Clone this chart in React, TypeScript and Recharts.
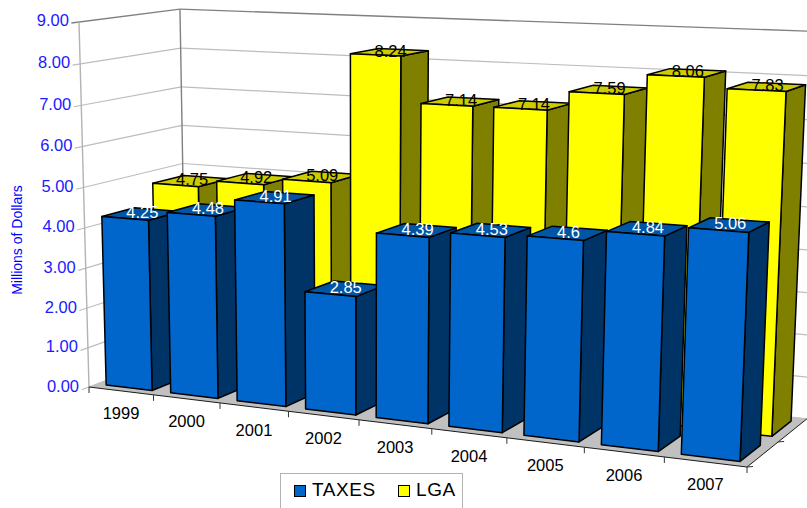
import React from "react";
import { Bar, ComposedChart, Legend, LabelList, XAxis, YAxis } from "recharts";

const years = ["1999", "2000", "2001", "2002", "2003", "2004", "2005", "2006", "2007"];
const taxes = [4.25, 4.48, 4.91, 2.85, 4.39, 4.53, 4.6, 4.84, 5.06];
const lga = [4.75, 4.92, 5.09, 8.24, 7.14, 7.14, 7.59, 8.06, 7.83];
const valueTicks = [0, 1, 2, 3, 4, 5, 6, 7, 8, 9];

const rows = years.map((year, i) => ({ year, TAXES: taxes[i], LGA: lga[i] }));

const WIDTH = 807;
const HEIGHT = 508;
const MAX_VALUE = 9;
const FONT = "'Liberation Sans', Arial, sans-serif";
const AXIS_SIZE = 1;

// Perspective camera: X runs along the years, Y into the depth of the floor,
// Z up the value axis; all three are normalised to 0..1.
const project = (X: number, Y: number, Z: number): [number, number] => {
  const w = 1 - 0.13 * X + 0.0722 * Y - 0.0353 * Z;
  return [
    (89 + 560.9 * X + 110.4 * Y - 12.8 * Z) / w,
    (387 + 19.3 * X - 11.7 * Y - 365.8 * Z) / w,
  ];
};

const path = (points: [number, number][]) =>
  points.map(([x, y]) => `${x.toFixed(2)},${y.toFixed(2)}`).join(" ");

const TAXES_DEPTH: [number, number] = [0.08, 0.4];
const LGA_DEPTH: [number, number] = [0.59, 0.92];

// Plot-pixel x to the normalised position along the years.
const toX = (x: number) => (x - AXIS_SIZE) / (WIDTH - AXIS_SIZE);

type Palette = { front: string; side: string; top: string };
const BLUE: Palette = { front: "#0066cc", side: "#003366", top: "#0055a5" };
const YELLOW: Palette = { front: "#ffff00", side: "#808000", top: "#cccc00" };

// Draws one column as a shaded box from the rectangle the Bar series computes.
const boxShape = (palette: Palette, [near, far]: [number, number]) => (props: any) => {
  const { x, width, height, background } = props;
  const X0 = toX(x);
  const X1 = toX(x + width);
  const Z = height / background.height;
  const outline = { stroke: "#000", strokeWidth: 1.5, strokeLinejoin: "round" as const };
  return (
    <g>
      <polygon
        points={path([project(X1, near, 0), project(X1, far, 0), project(X1, far, Z), project(X1, near, Z)])}
        fill={palette.side}
        {...outline}
      />
      <polygon
        points={path([project(X0, near, Z), project(X1, near, Z), project(X1, far, Z), project(X0, far, Z)])}
        fill={palette.top}
        {...outline}
      />
      <polygon
        points={path([project(X0, near, 0), project(X1, near, 0), project(X1, near, Z), project(X0, near, Z)])}
        fill={palette.front}
        {...outline}
      />
    </g>
  );
};

// The value sits at the centre of the column's top face.
const valueLabel = (color: string, [near, far]: [number, number]) => (props: any) => {
  const { x, width, value } = props;
  const [px, py] = project(toX(x + width / 2), (near + far) / 2, value / MAX_VALUE);
  return (
    <text x={px + 1} y={py + 4.5} textAnchor="middle" fontFamily={FONT} fontSize={16.5} fill={color}>
      {value}
    </text>
  );
};

// Left wall, back wall and floor behind the columns.
const Room = () => {
  const grid = "#bdbdbd";
  const edge = "#808080";
  const wallLine = (a: [number, number], b: [number, number], stroke: string, strokeWidth = 1.2) => (
    <line x1={a[0]} y1={a[1]} x2={b[0]} y2={b[1]} stroke={stroke} strokeWidth={strokeWidth} />
  );
  return (
    <g>
      <polygon
        points={path([project(0, 0, 0), project(1, 0, 0), project(1, 1, 0), project(0, 1, 0)])}
        fill="#c0c0c0"
      />
      {valueTicks.map((tick) => {
        const Z = tick / MAX_VALUE;
        const stroke = tick === MAX_VALUE ? edge : grid;
        return (
          <g key={tick}>
            {wallLine(project(0, -0.07, Z), project(0, 1, Z), stroke, tick === MAX_VALUE ? 1.4 : 1.2)}
            {wallLine(project(0, 1, Z), project(1, 1, Z), stroke, tick === MAX_VALUE ? 1.4 : 1.2)}
          </g>
        );
      })}
      {wallLine(project(0, 0, 0), project(0, 0, 1), "#b3b3b3", 1.4)}
      {wallLine(project(0, 1, 0), project(0, 1, 1), edge, 1.4)}
      {wallLine(project(0, 0, 0), project(1, 0, 0), "#1a1a1a", 1)}
      {wallLine(project(1, 0, 0), project(1, 1, 0), "#1a1a1a", 1)}
      {years.map((_, i) => {
        const [px, py] = project((i + 1) / years.length, 0, 0);
        return <line key={i} x1={px} y1={py} x2={px} y2={py + 6} stroke="#333" strokeWidth={1} />;
      })}
      {(() => {
        const [px, py] = project(0, 0, 0);
        return <line x1={px} y1={py} x2={px} y2={py + 6} stroke="#333" strokeWidth={1} />;
      })()}
      {[0, 0.5].map((depth) => {
        const [px, py] = project(1, depth, 0);
        return <line key={depth} x1={px} y1={py} x2={px + 6} y2={py - 0.5} stroke="#333" strokeWidth={1} />;
      })}
      <text
        transform="translate(22 240) rotate(-90)"
        textAnchor="middle"
        fontFamily={FONT}
        fontSize={14}
        fill="#0000ff"
      >
        Millions of Dollars
      </text>
    </g>
  );
};

const YearTick = (props: any) => {
  const { payload, index } = props;
  const [px, py] = project((index + 0.5) / years.length, 0, 0);
  return (
    <text x={px} y={py + 28.5} textAnchor="middle" fontFamily={FONT} fontSize={16.5} fill="#000">
      {payload.value}
    </text>
  );
};

const ValueTick = (props: any) => {
  const { payload } = props;
  const [px, py] = project(0, 0, payload.value / MAX_VALUE);
  return (
    <text x={px - 10} y={py + 4.5} textAnchor="end" fontFamily={FONT} fontSize={16.5} fill="#1a1aff">
      {payload.value.toFixed(2)}
    </text>
  );
};

const LegendBox = ({ payload }: any) => (
  <div
    style={{
      boxSizing: "border-box",
      width: 183,
      height: 60,
      border: "1px solid #b3b3b3",
      background: "#fff",
      fontFamily: FONT,
      fontSize: 19,
      lineHeight: "19px",
      letterSpacing: 0.6,
      color: "#000",
      position: "relative",
    }}
  >
    {[...(payload ?? [])].reverse().map((item: any, i: number) => (
      <div key={item.value} style={{ position: "absolute", left: i === 0 ? 13 : 117, top: 6, display: "flex" }}>
        <span
          style={{
            display: "block",
            boxSizing: "border-box",
            width: 12,
            height: 12,
            marginTop: 5,
            marginRight: 6,
            background: item.color,
            border: "1px solid #000",
          }}
        />
        <span>{item.value}</span>
      </div>
    ))}
  </div>
);

export default function App() {
  return (
    <div style={{ position: "fixed", left: 0, top: 0, width: WIDTH, height: HEIGHT, overflow: "hidden", background: "#fff" }}>
      <ComposedChart
        width={WIDTH}
        height={HEIGHT}
        data={rows}
        margin={{ top: 0, right: 0, bottom: 0, left: 0 }}
        barCategoryGap="14%"
      >
        <Room />
        <XAxis
          xAxisId="front"
          dataKey="year"
          height={AXIS_SIZE}
          axisLine={false}
          tickLine={false}
          interval={0}
          tick={YearTick}
        />
        <XAxis xAxisId="back" dataKey="year" height={AXIS_SIZE} hide />
        <YAxis
          domain={[0, MAX_VALUE]}
          ticks={valueTicks}
          width={AXIS_SIZE}
          axisLine={false}
          tickLine={false}
          interval={0}
          tick={ValueTick}
        />
        <Bar
          xAxisId="back"
          dataKey="LGA"
          fill={YELLOW.front}
          shape={boxShape(YELLOW, LGA_DEPTH)}
          isAnimationActive={false}
        >
          <LabelList dataKey="LGA" content={valueLabel("#000", LGA_DEPTH)} />
        </Bar>
        <Bar
          xAxisId="front"
          dataKey="TAXES"
          fill={BLUE.front}
          shape={boxShape(BLUE, TAXES_DEPTH)}
          isAnimationActive={false}
        >
          <LabelList dataKey="TAXES" content={valueLabel("#fff", TAXES_DEPTH)} />
        </Bar>
        <Legend
          content={LegendBox}
          wrapperStyle={{ left: 280, top: 473, bottom: "auto", width: 183, height: 60 }}
        />
      </ComposedChart>
    </div>
  );
}
